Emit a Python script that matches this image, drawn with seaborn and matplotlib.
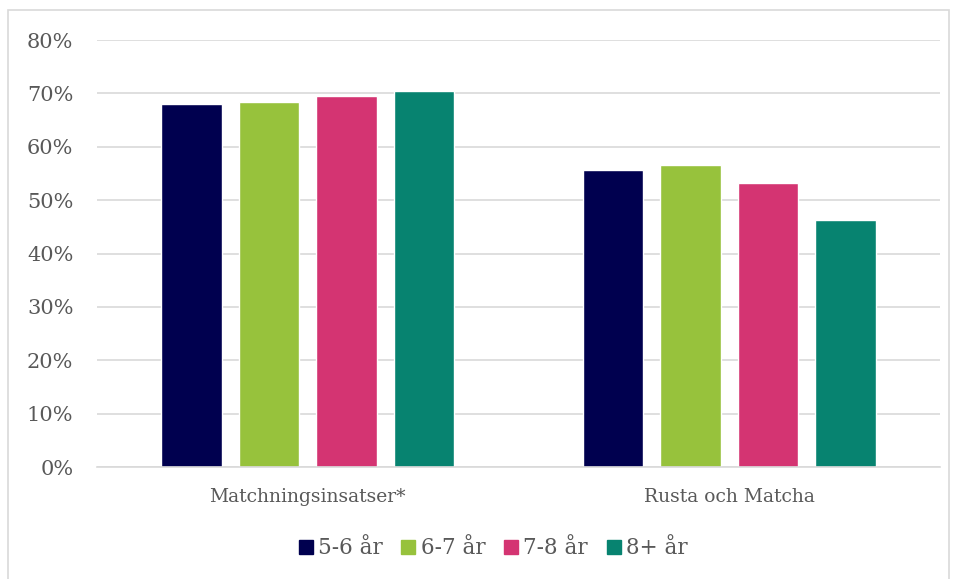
import pandas as pd
import numpy as np
import matplotlib.pyplot as plt
import seaborn as sns
from matplotlib.patches import Rectangle
from matplotlib.lines import Line2D
from matplotlib.ticker import FuncFormatter

# Data
categories = ["Matchningsinsatser*", "Rusta och Matcha"]
series = ["5-6 år", "6-7 år", "7-8 år", "8+ år"]
vals_56 = [68.0, 55.7]
vals_67 = [68.3, 56.5]
vals_78 = [69.5, 53.2]
vals_8p = [70.4, 46.2]
colors = ["#00004f", "#97c23c", "#d43472", "#078370"]

df = pd.DataFrame({
    "kategori": categories * 4,
    "grupp": np.repeat(series, len(categories)),
    "andel": vals_56 + vals_67 + vals_78 + vals_8p,
})

sns.set_theme(style="white")
plt.rcParams['font.family'] = ['DejaVu Serif']
textcol = "#595959"
gridcol = "#d9d9d9"

fig = plt.figure(figsize=(9.57, 5.79), dpi=100)
ax = fig.add_axes([0.1014, 0.1934, 0.8809, 0.7375])

sns.barplot(data=df, x="kategori", y="andel", hue="grupp", hue_order=series,
            palette=colors, width=0.735, gap=0.22, saturation=1,
            legend=False, ax=ax)

ax.set_ylim(0, 80)
ax.set_yticks(np.arange(0, 81, 10))
ax.yaxis.set_major_formatter(FuncFormatter(lambda v, p: f"{v:.0f}%"))
ax.grid(axis="y", color=gridcol, linewidth=1.2, zorder=0)
ax.set_axisbelow(True)
for s in ["top", "right", "left"]:
    ax.spines[s].set_visible(False)
ax.spines["bottom"].set_color(gridcol)
ax.spines["bottom"].set_linewidth(1.2)
ax.tick_params(axis="y", length=0, pad=17, labelsize=15, labelcolor=textcol)
ax.tick_params(axis="x", length=0, pad=15, labelsize=13.5, labelcolor=textcol)
ax.set_xlabel("")
ax.set_ylabel("")

handles = [Line2D([0], [0], marker="s", linestyle="none", markersize=10,
                  markerfacecolor=c, markeredgecolor=c) for c in colors]
fig.legend(handles, series, loc="center", bbox_to_anchor=(0.515, 0.053),
           ncol=4, frameon=False, fontsize=15.5, labelcolor=textcol,
           handlelength=0.7, handletextpad=0.22, columnspacing=0.85)

# chart frame
fig.patches.append(Rectangle((8 / 957, -0.01), 941 / 957, 1 - 10 / 579 + 0.01,
                             transform=fig.transFigure, fill=False,
                             edgecolor=gridcol, linewidth=1.2))

fig.savefig("out.png", dpi=100)
